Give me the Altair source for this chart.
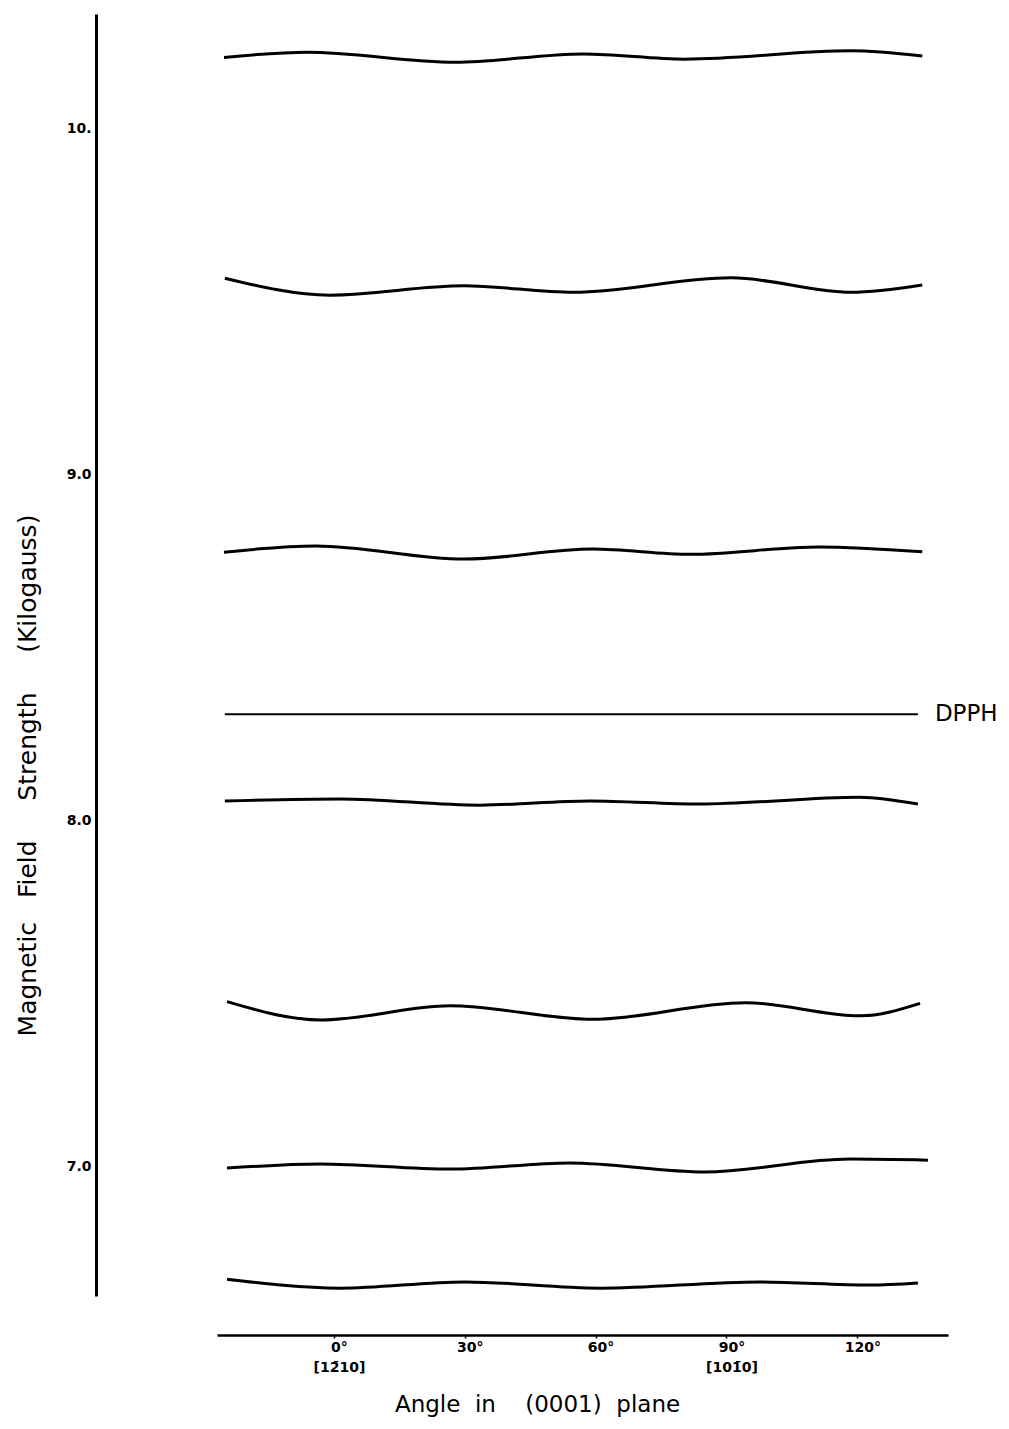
import altair as alt
import pandas as pd

# angle (degrees) and field (kilogauss), top curve first
angles_c1 = [-25.2, -6.2, 27.8, 57.3, 80.5, 118.6, 134.9]
field_c1 = [10.204, 10.219, 10.190, 10.214, 10.199, 10.223, 10.208]

angles_c2 = [-25.0, -0.9, 29.8, 55.0, 91.1, 118.6, 134.9]
field_c2 = [9.566, 9.517, 9.544, 9.525, 9.567, 9.525, 9.546]

angles_c3 = [-25.2, -4.1, 29.8, 59.4, 81.7, 111.2, 134.9]
field_c3 = [8.774, 8.792, 8.754, 8.783, 8.768, 8.789, 8.775]

angles_dpph = [-25.0, 133.9]
field_dpph = [8.306, 8.306]

angles_c5 = [-25.0, 1.4, 33.5, 58.7, 83.9, 120.6, 133.9]
field_c5 = [8.055, 8.061, 8.043, 8.055, 8.046, 8.066, 8.046]

angles_c6 = [-24.5, -3.0, 26.6, 59.4, 94.3, 120.6, 134.4]
field_c6 = [7.475, 7.422, 7.463, 7.424, 7.472, 7.434, 7.470]

angles_c7 = [-24.5, -3.2, 26.6, 54.1, 85.1, 118.3, 136.2]
field_c7 = [6.994, 7.006, 6.991, 7.009, 6.983, 7.020, 7.017]

angles_c8 = [-24.5, 1.4, 30.0, 61.0, 97.7, 122.9, 133.9]
field_c8 = [6.673, 6.647, 6.665, 6.647, 6.665, 6.656, 6.662]

x_ticks = [0, 30, 60, 90, 120]
y_ticks = [7, 8, 9, 10]

NB = "\u00a0"
x_title = "Angle" + NB * 2 + "in" + NB * 4 + "(0001)" + NB * 2 + "plane"
y_title = "Magnetic" + NB * 3 + "Field" + NB * 5 + "Strength" + NB * 5 + "(Kilogauss)"

series = [
    ("c1", angles_c1, field_c1, 3.0),
    ("c2", angles_c2, field_c2, 3.0),
    ("c3", angles_c3, field_c3, 3.0),
    ("dpph", angles_dpph, field_dpph, 2.0),
    ("c5", angles_c5, field_c5, 3.0),
    ("c6", angles_c6, field_c6, 3.0),
    ("c7", angles_c7, field_c7, 3.0),
    ("c8", angles_c8, field_c8, 3.0),
]

rows = []
for name, a_list, f_list, w in series:
    for a, f in zip(a_list, f_list):
        rows.append({"series": name, "angle": a, "field": f, "w": w})
df = pd.DataFrame(rows)

label_df = pd.DataFrame({"angle": [angles_dpph[-1]], "field": [field_dpph[-1]], "label": ["DPPH"]})

FONT = "DejaVu Sans"

x_enc = alt.X(
    "angle:Q",
    scale=alt.Scale(domain=[-26.8, 140.8], nice=False, zero=False),
    axis=alt.Axis(
        values=x_ticks,
        labelExpr="datum.value == 0 ? ['0°', '[12\u030410]'] : (datum.value == 90 ? ['90°', '[101\u03040]'] : datum.value + '°')",
        offset=39,
        domainColor="black",
        domainWidth=2.5,
        tickColor="black",
        tickSize=3,
        tickWidth=1.5,
        labelPadding=2,
        labelOffset=5,
        labelFont=FONT,
        labelFontSize=14,
        labelFontWeight="bold",
        labelColor="black",
        labelLineHeight=20,
        labelBaseline="top",
        grid=False,
        title=x_title,
        titleFont=FONT,
        titleFontSize=23,
        titleFontWeight="normal",
        titleColor="black",
        titleX=320,
        titleY=76,
        titleAlign="center",
        titleBaseline="alphabetic",
    ),
)

y_enc = alt.Y(
    "field:Q",
    scale=alt.Scale(domain=[6.6243, 10.3295], nice=False, zero=False),
    axis=alt.Axis(
        values=y_ticks,
        labelExpr="datum.value == 10 ? '10.' : format(datum.value, '.1f')",
        offset=121,
        domainColor="black",
        domainWidth=3,
        ticks=False,
        labelPadding=5,
        labelFont=FONT,
        labelFontSize=14,
        labelFontWeight="bold",
        labelColor="black",
        grid=False,
        title=y_title,
        titleFont=FONT,
        titleFontSize=25,
        titleFontWeight="normal",
        titleColor="black",
        titleAngle=270,
        titleX=-61,
        titleY=761,
        titleAlign="center",
        titleBaseline="alphabetic",
    ),
)

lines = alt.Chart(df).mark_line(interpolate="monotone", color="black").encode(
    x=x_enc,
    y=y_enc,
    detail="series:N",
    strokeWidth=alt.StrokeWidth("w:Q", scale=None),
)

text = alt.Chart(label_df).mark_text(
    align="left", baseline="middle", dx=17, fontSize=23, font=FONT, color="black"
).encode(x="angle:Q", y="field:Q", text="label:N")

chart = (
    alt.layer(lines, text)
    .properties(
        width=731,
        height=1282,
        autosize=alt.AutoSizeParams(type="none"),
        padding={"left": 209, "top": 6, "right": 52, "bottom": 125},
        background="white",
    )
    .configure_view(stroke=None)
)

chart.save("out.html", embed_options={"renderer": "svg", "actions": False})
